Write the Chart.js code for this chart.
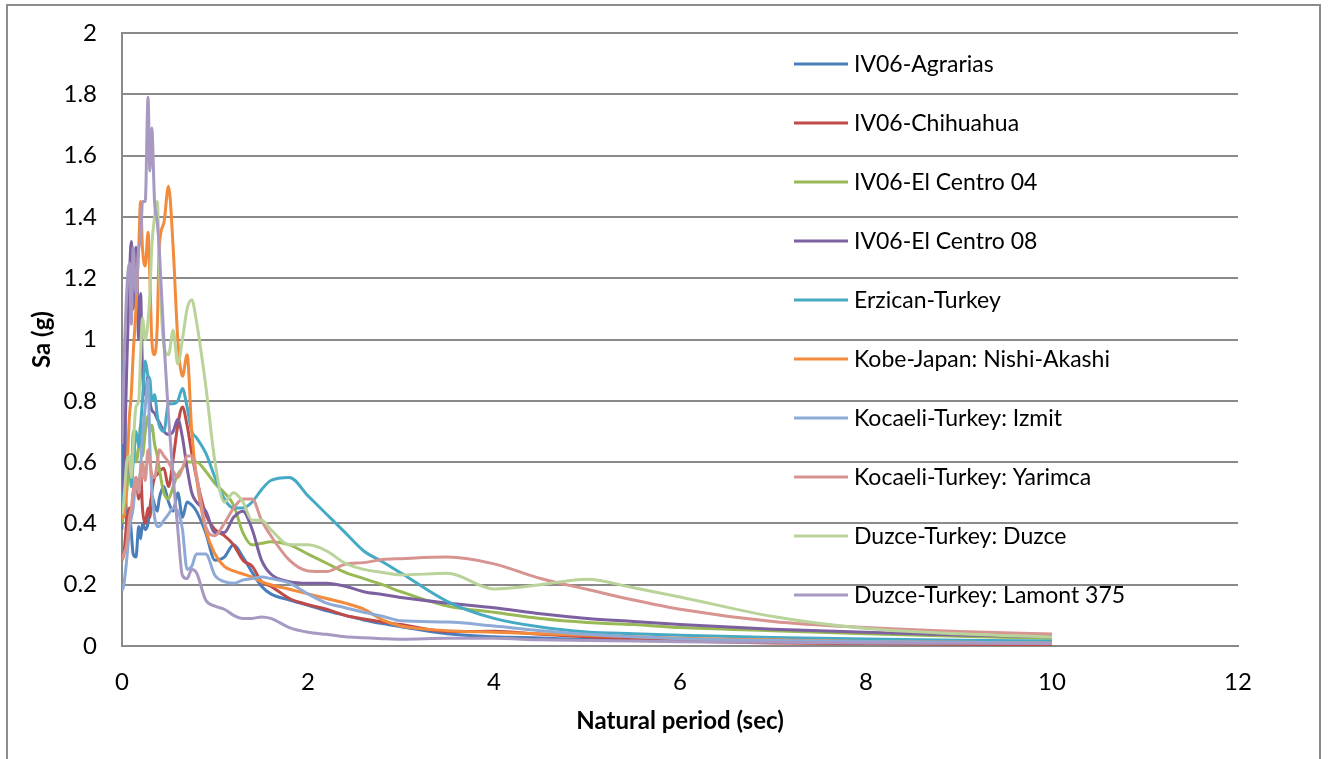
<!DOCTYPE html>
<html>
<head>
<meta charset="utf-8">
<script src="https://cdn.jsdelivr.net/npm/chart.js@4"></script>
<style>
  body { margin: 0; background: #fff; }
  #wrap { position: relative; width: 1328px; height: 759px; overflow: hidden; }
  #frame { position: absolute; left: 6px; top: 4px; width: 1315px; height: 800px; border: 2px solid #8c8c8c; box-sizing: border-box; }
  canvas { position: absolute; left: 0; top: 0; }
</style>
</head>
<body>
<div id="wrap">
  <div id="frame"></div>
  <canvas id="spectra" width="1328" height="759"></canvas>
</div>
<script>
// Periode (sec)
const periods = [0, 0.02, 0.05, 0.08, 0.1, 0.12, 0.15, 0.18, 0.2, 0.22, 0.25, 0.28, 0.3, 0.32, 0.35, 0.38, 0.4, 0.45, 0.5, 0.55,
    0.6, 0.65, 0.7, 0.75, 0.8, 0.9, 1.0, 1.1, 1.2, 1.3, 1.4, 1.5, 1.6, 1.8, 2.0, 2.2, 2.4, 2.6, 2.8, 3.0,
    3.5, 4.0, 4.5, 5.0, 5.5, 6.0, 7.0, 8.0, 9.0, 10.0];

// Sa (g) per record
const agrarias = [0.38, 0.93, 0.4, 0.43, 0.37, 0.3, 0.29, 0.39, 0.35, 0.4, 0.38, 0.4, 0.45, 0.49, 0.46, 0.44, 0.48, 0.52, 0.47, 0.44,
    0.5, 0.42, 0.47, 0.46, 0.44, 0.37, 0.28, 0.29, 0.33, 0.29, 0.24, 0.195, 0.17, 0.15, 0.133, 0.115, 0.1, 0.085, 0.073, 0.063,
    0.04, 0.03, 0.026, 0.021, 0.019, 0.016, 0.013, 0.01, 0.008, 0.007];
const chihuahua = [0.28, 0.3, 0.4, 0.45, 0.42, 0.5, 0.55, 0.48, 0.57, 0.45, 0.4, 0.45, 0.42, 0.5, 0.55, 0.56, 0.57, 0.58, 0.52, 0.61,
    0.72, 0.78, 0.72, 0.63, 0.55, 0.43, 0.38, 0.36, 0.33, 0.28, 0.26, 0.21, 0.195, 0.155, 0.135, 0.12, 0.1, 0.088, 0.078, 0.07,
    0.047, 0.048, 0.038, 0.03, 0.022, 0.016, 0.01, 0.008, 0.006, 0.005];
const elCentro04 = [0.4, 0.44, 0.5, 0.6, 0.55, 0.7, 0.6, 0.65, 0.72, 0.62, 0.7, 0.75, 0.7, 0.72, 0.66, 0.62, 0.58, 0.5, 0.48, 0.52,
    0.56, 0.58, 0.6, 0.6, 0.6, 0.57, 0.53, 0.5, 0.46, 0.37, 0.33, 0.335, 0.34, 0.33, 0.3, 0.27, 0.24, 0.22, 0.2, 0.177,
    0.13, 0.11, 0.09, 0.077, 0.07, 0.06, 0.05, 0.04, 0.032, 0.025];
const elCentro08 = [0.45, 0.55, 0.9, 1.2, 1.32, 1.1, 1.3, 1.0, 1.15, 0.9, 0.82, 0.88, 0.8, 0.77, 0.76, 0.74, 0.73, 0.7, 0.69, 0.7,
    0.74, 0.68, 0.58, 0.5, 0.47, 0.44, 0.37, 0.37, 0.42, 0.44, 0.38, 0.28, 0.235, 0.21, 0.205, 0.205, 0.195, 0.177, 0.168, 0.158,
    0.14, 0.125, 0.105, 0.09, 0.08, 0.07, 0.055, 0.045, 0.036, 0.03];
const erzican = [0.45, 0.5, 0.55, 0.6, 0.52, 0.6, 0.7, 0.65, 0.72, 0.8, 0.93, 0.88, 0.87, 0.8, 0.82, 0.75, 0.72, 0.7, 0.79, 0.79,
    0.8, 0.84, 0.78, 0.7, 0.68, 0.63, 0.55, 0.48, 0.45, 0.45, 0.47, 0.51, 0.54, 0.55, 0.49, 0.43, 0.37, 0.31, 0.275, 0.238,
    0.145, 0.09, 0.062, 0.046, 0.04, 0.035, 0.028, 0.023, 0.019, 0.016];
const kobe = [0.42, 0.42, 0.55, 0.75, 0.82, 0.95, 1.1, 1.3, 1.45, 1.3, 1.24, 1.35, 1.2, 1.0, 0.95, 1.05, 1.3, 1.38, 1.5, 1.3,
    1.0, 0.88, 0.95, 0.7, 0.55, 0.38, 0.3, 0.26, 0.245, 0.235, 0.225, 0.21, 0.2, 0.185, 0.17, 0.155, 0.14, 0.12, 0.085, 0.065,
    0.05, 0.045, 0.04, 0.035, 0.03, 0.025, 0.02, 0.015, 0.012, 0.01];
const izmit = [0.18, 0.2, 0.28, 0.38, 0.42, 0.45, 0.54, 0.5, 0.58, 0.68, 0.78, 0.87, 0.65, 0.51, 0.42, 0.39, 0.39, 0.41, 0.43, 0.45,
    0.44, 0.38, 0.25, 0.26, 0.3, 0.3, 0.23, 0.21, 0.205, 0.215, 0.22, 0.225, 0.22, 0.205, 0.17, 0.14, 0.125, 0.11, 0.097, 0.082,
    0.078, 0.065, 0.05, 0.038, 0.03, 0.024, 0.018, 0.015, 0.012, 0.01];
const yarimca = [0.28, 0.3, 0.33, 0.42, 0.45, 0.5, 0.55, 0.5, 0.56, 0.6, 0.54, 0.64, 0.6, 0.56, 0.55, 0.6, 0.64, 0.62, 0.6, 0.57,
    0.55, 0.58, 0.62, 0.62, 0.56, 0.39, 0.36, 0.4, 0.45, 0.48, 0.48, 0.41, 0.36, 0.28, 0.245, 0.243, 0.267, 0.272, 0.282, 0.285,
    0.29, 0.268, 0.22, 0.185, 0.15, 0.12, 0.08, 0.06, 0.047, 0.039];
const duzce = [0.43, 0.47, 0.6, 0.62, 0.55, 0.65, 0.78, 0.8, 0.95, 1.07, 1.0, 1.06, 1.15, 1.3, 1.4, 1.45, 1.25, 0.98, 0.95, 1.03,
    0.92, 1.0, 1.1, 1.13, 1.06, 0.85, 0.6, 0.47, 0.5, 0.47, 0.41, 0.41, 0.38, 0.33, 0.33, 0.31, 0.27, 0.25, 0.24, 0.232,
    0.237, 0.186, 0.2, 0.218, 0.19, 0.16, 0.096, 0.057, 0.04, 0.029];
const lamont = [0.66, 0.9, 1.15, 1.25, 1.05, 1.3, 1.15, 1.3, 1.32, 1.45, 1.45, 1.79, 1.55, 1.69, 1.45, 1.38, 1.3, 1.0, 0.75, 0.55,
    0.38, 0.23, 0.22, 0.25, 0.24, 0.15, 0.13, 0.12, 0.1, 0.09, 0.09, 0.095, 0.09, 0.06, 0.045, 0.038, 0.03, 0.027, 0.024, 0.022,
    0.025, 0.025, 0.02, 0.018, 0.016, 0.014, 0.012, 0.01, 0.009, 0.008];

const labels = ["IV06-Agrarias", "IV06-Chihuahua", "IV06-El Centro 04", "IV06-El Centro 08", "Erzican-Turkey",
    "Kobe-Japan: Nishi-Akashi", "Kocaeli-Turkey: Izmit", "Kocaeli-Turkey: Yarimca", "Duzce-Turkey: Duzce", "Duzce-Turkey: Lamont 375"];
const series = [agrarias, chihuahua, elCentro04, elCentro08, erzican, kobe, izmit, yarimca, duzce, lamont];
const colors = ["#4a7ebb", "#be4b48", "#98b954", "#7d60a0", "#46aac5", "#f38b3c", "#8eaad6", "#d79491", "#bad39a", "#a899c2"];

const fontFam = "Lato, 'Open Sans', sans-serif";

// legenda binnen het plotvlak
const insideLegend = {
    id: "insideLegend",
    afterDraw(chart) {
        const ctx = chart.ctx;
        ctx.save();
        ctx.font = "23px " + fontFam;
        ctx.textBaseline = "middle";
        ctx.fillStyle = "#000";
        chart.data.datasets.forEach((ds, i) => {
            const y = 64 + 59 * i;
            ctx.strokeStyle = ds.borderColor;
            ctx.lineWidth = 3;
            ctx.beginPath();
            ctx.moveTo(794, y);
            ctx.lineTo(848, y);
            ctx.stroke();
            ctx.fillText(ds.label, 854, y + 1);
        });
        ctx.restore();
    }
};

new Chart(document.getElementById("spectra"), {
    type: "line",
    data: {
        datasets: series.map((vals, i) => ({
            label: labels[i],
            data: periods.map((t, j) => ({ x: t, y: vals[j] })),
            borderColor: colors[i],
            backgroundColor: colors[i],
            borderWidth: 3,
            pointRadius: 0,
            cubicInterpolationMode: "monotone",
            order: series.length - i
        }))
    },
    options: {
        responsive: false,
        animation: false,
        devicePixelRatio: 1,
        layout: { padding: { top: 33, right: 90, left: 0, bottom: 0 } },
        plugins: { legend: { display: false }, tooltip: { enabled: false } },
        scales: {
            x: {
                type: "linear",
                min: 0,
                max: 12,
                afterFit(scale) { scale.height = 113; },
                ticks: { stepSize: 2, padding: 22, color: "#000", font: { family: fontFam, size: 24 } },
                grid: { display: false, drawTicks: false },
                border: { display: true, color: "#8a8a8a", width: 2 },
                title: { display: true, text: "Natural period (sec)", color: "#000",
                    font: { family: fontFam, size: 24, weight: "bold" }, padding: { bottom: 23 } }
            },
            y: {
                min: 0,
                max: 2,
                afterFit(scale) { scale.width = 122; scale.paddingTop = 0; scale.paddingBottom = 0; },
                ticks: { stepSize: 0.2, padding: 25, color: "#000", font: { family: fontFam, size: 24 },
                    callback: (v) => String(Number(v.toFixed(1))) },
                grid: { color: "#8a8a8a", lineWidth: 2, drawTicks: false },
                border: { display: true, color: "#8a8a8a", width: 2 },
                title: { display: true, text: "Sa (g)", color: "#000",
                    font: { family: fontFam, size: 24, weight: "bold" }, padding: { top: 28 } }
            }
        }
    },
    plugins: [insideLegend]
});
</script>
</body>
</html>
